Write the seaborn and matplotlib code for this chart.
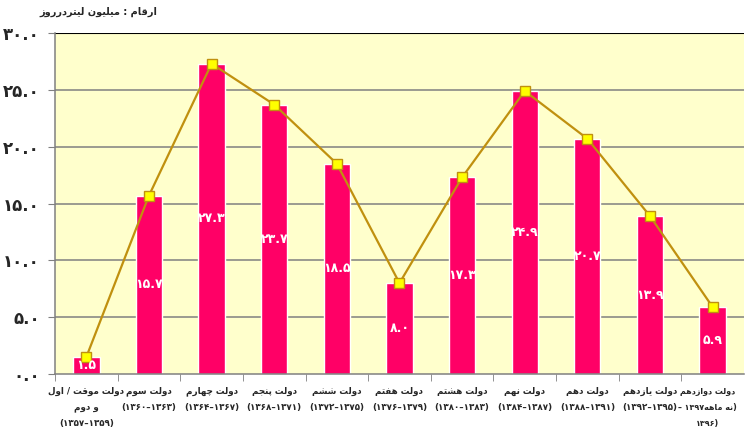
import matplotlib
matplotlib.use("Agg")
import matplotlib.pyplot as plt
import matplotlib.transforms as mtransforms
import seaborn as sns
import pandas as pd
import re

# Data
names = ["دولت موقت / اول\nو دوم", "دولت سوم", "دولت چهارم", "دولت پنجم", "دولت ششم",
         "دولت هفتم", "دولت هشتم", "دولت نهم", "دولت دهم", "دولت یازدهم", "دولت دوازدهم"]
periods = ["(۱۳۵۷–۱۳۵۹)", "(۱۳۶۰–۱۳۶۳)", "(۱۳۶۴–۱۳۶۷)", "(۱۳۶۸–۱۳۷۱)", "(۱۳۷۲–۱۳۷۵)",
           "(۱۳۷۶–۱۳۷۹)", "(۱۳۸۰–۱۳۸۳)", "(۱۳۸۴–۱۳۸۷)", "(۱۳۸۸–۱۳۹۱)", "(۱۳۹۲–۱۳۹۵)",
           "(نه ماهه۱۳۹۷ –\n۱۳۹۶)"]
values = [1.5, 15.7, 27.3, 23.7, 18.5, 8.0, 17.3, 24.9, 20.7, 13.9, 5.9]
yticks = [0, 5, 10, 15, 20, 25, 30]
title = "ارقام : میلیون لیتردرروز"

# Persian shaping (matplotlib has no RTL / joining support)
# isolated, final, initial, medial
FORMS = {
    "ا": ("\uFE8D", "\uFE8E", None, None),
    "د": ("\uFEA9", "\uFEAA", None, None),
    "ر": ("\uFEAD", "\uFEAE", None, None),
    "ز": ("\uFEAF", "\uFEB0", None, None),
    "و": ("\uFEED", "\uFEEE", None, None),
    "پ": ("\uFB56", "\uFB57", "\uFB58", "\uFB59"),
    "ت": ("\uFE95", "\uFE96", "\uFE97", "\uFE98"),
    "ج": ("\uFE9D", "\uFE9E", "\uFE9F", "\uFEA0"),
    "چ": ("\uFB7A", "\uFB7B", "\uFB7C", "\uFB7D"),
    "ش": ("\uFEB5", "\uFEB6", "\uFEB7", "\uFEB8"),
    "س": ("\uFEB1", "\uFEB2", "\uFEB3", "\uFEB4"),
    "ف": ("\uFED1", "\uFED2", "\uFED3", "\uFED4"),
    "ق": ("\uFED5", "\uFED6", "\uFED7", "\uFED8"),
    "ل": ("\uFEDD", "\uFEDE", "\uFEDF", "\uFEE0"),
    "م": ("\uFEE1", "\uFEE2", "\uFEE3", "\uFEE4"),
    "ن": ("\uFEE5", "\uFEE6", "\uFEE7", "\uFEE8"),
    "ه": ("\uFEE9", "\uFEEA", "\uFEEB", "\uFEEC"),
    "ی": ("\uFBFC", "\uFBFD", "\uFBFE", "\uFBFF"),
}
FA_DIGITS = str.maketrans("0123456789", "۰۱۲۳۴۵۶۷۸۹")


def fa(line):
    out = []
    for i, c in enumerate(line):
        if c not in FORMS:
            out.append(c)
            continue
        prev = line[i - 1] if i > 0 else ""
        nxt = line[i + 1] if i + 1 < len(line) else ""
        pj = prev in FORMS and FORMS[prev][2] is not None
        nj = FORMS[c][2] is not None and nxt in FORMS
        f = FORMS[c]
        if pj and nj:
            out.append(f[3])
        elif pj:
            out.append(f[1])
        elif nj:
            out.append(f[2])
        else:
            out.append(f[0])
    s = "".join(out)[::-1]
    s = re.sub("[۰-۹.]+", lambda m: m.group(0)[::-1], s)
    return s.translate(str.maketrans("()", ")("))


def has_letters(s):
    return any(c in FORMS for c in s)


labels = []
for n, p in zip(names, periods):
    lines = [fa(l) for l in n.split("\n")]
    lines += [fa(l) if has_letters(l) else l for l in p.split("\n")]
    labels.append("\n".join(lines))

df = pd.DataFrame({"cat": labels, "value": values})

sns.set_style("white")
plt.rcParams["font.family"] = ["DejaVu Sans"]
plt.rcParams["font.weight"] = "bold"

fig = plt.figure(figsize=(7.56, 4.42), dpi=100)
ax = fig.add_axes([0.0728, 0.1538, 0.9112, 0.7715])
ax.set_facecolor("#FFFFCC")

sns.barplot(data=df, x="cat", y="value", color="#FF0066", saturation=1,
            width=0.42, ax=ax, zorder=2)
ax.plot(range(len(values)), values, color="#C0900F", lw=1.6, marker="s",
        markersize=7, markerfacecolor="#FFFF00", markeredgecolor="#C0900F",
        markeredgewidth=1, zorder=4)

for i, v in enumerate(values):
    ax.text(i, v / 2, f"{v:.1f}".translate(FA_DIGITS), color="white",
            fontsize=9, fontweight="bold", ha="center", va="center", zorder=5)

ax.set_ylim(0, 30)
ax.set_xlim(-0.5, len(values) - 0.5)
ax.set_yticks(yticks)
ax.set_yticklabels([f"{t:.1f}".translate(FA_DIGITS) for t in yticks],
                   fontsize=12, fontweight="bold")
for t in yticks[1:-1]:
    ax.axhline(t, color="#808080", lw=1.1, zorder=1)
ax.axhline(30, color="black", lw=1.5, zorder=1)

ax.set_xticks(range(len(values)))
ax.set_xticklabels(labels, fontsize=6.3, fontweight="bold", linespacing=2.0, va="top")
ax.tick_params(axis="x", length=0, pad=9)
ax.tick_params(axis="y", length=5, color="#808080", pad=6, direction="out", left=True)
# ticks between categories
ax.set_xticks([i + 0.5 for i in range(len(values) - 1)] + [-0.5], minor=True)
ax.tick_params(axis="x", which="minor", length=5, color="#808080", direction="out", bottom=True)

# last label would run off the right edge
last = ax.get_xticklabels()[-1]
last.set_fontsize(5.8)
last.set_transform(last.get_transform() + mtransforms.ScaledTranslation(-0.05, 0, fig.dpi_scale_trans))

for s in ["top", "right"]:
    ax.spines[s].set_visible(False)
for s in ["left", "bottom"]:
    ax.spines[s].set_color("#808080")
    ax.spines[s].set_linewidth(1.1)

ax.set_xlabel("")
ax.set_ylabel("")

fig.text(0.13, 0.972, fa(title), fontsize=7, fontweight="bold", ha="center", va="center")

fig.savefig("out.png", dpi=100)
